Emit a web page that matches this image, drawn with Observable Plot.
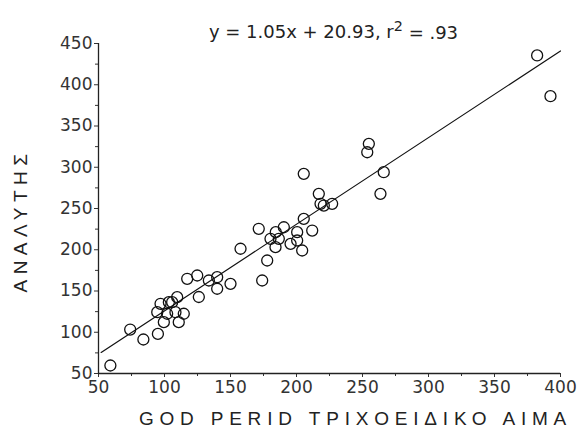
<!DOCTYPE html>
<html><head><meta charset="utf-8">
<script src="https://cdn.jsdelivr.net/npm/d3@7"></script>
<script src="https://cdn.jsdelivr.net/npm/@observablehq/plot@0.6"></script>
<style>body{margin:0;background:#fff}</style>
</head><body><div id="chart"></div>
<script>
// Data
const godX = [59, 74, 84, 95, 94.5, 97, 102, 103.3, 109.6, 108.3, 114.6, 110.8, 99.5, 105.8,
  117.2, 124.8, 126, 133.6, 139.9, 139.9, 150, 157.6, 171.4, 174, 177.8, 180.3, 184.3, 184.1,
  186.6, 190.4, 195.5, 200.5, 200.5, 204.3, 205.5, 211.9, 205.5, 216.9, 218.2, 220.7, 227,
  254.8, 253.6, 266.1, 263.6, 382.3, 392.4];
const analyzerY = [59.7, 103.3, 91.2, 98, 124.3, 134.5, 122.4, 136.4, 142.5, 124.3, 122.4, 112.2, 112.2, 136.4,
  164.8, 168.8, 142.7, 162.7, 166.7, 152.7, 158.7, 201.2, 225.4, 162.7, 187, 213.3, 221.3, 203.1,
  213.3, 227.3, 207.2, 211.2, 221.3, 199.1, 237.5, 223.3, 292, 267.8, 255.7, 253.6, 255.7,
  328.4, 318.2, 294, 267.8, 435.5, 386.1];
const xTicks = [50, 100, 150, 200, 250, 300, 350, 400];
const yTicks = [50, 100, 150, 200, 250, 300, 350, 400, 450];
const xMinor = [75, 125, 175, 225, 275, 325, 375];
const yMinor = [75, 125, 175, 225, 275, 325, 375, 425];
const slope = 1.05, intercept = 20.93;
const fitRange = [52, 400];
const titleMain = "y = 1.05x + 20.93, r", titleSup = "2", titleTail = " = .93";
const titleText = titleMain + titleSup + titleTail;
const xLabel = "GOD PERID ΤΡΙΧΟΕΙΔΙΚΟ ΑΙΜΑ";
const yLabel = "ΑΝΑΛΥΤΗΣ";

const points = godX.map((x, i) => ({x, y: analyzerY[i]}));
const fitLine = fitRange.map(x => ({x, y: slope * x + intercept}));

const chart = Plot.plot({
  width: 578, height: 439,
  marginLeft: 98, marginRight: 18, marginTop: 43, marginBottom: 66,
  style: {fontFamily: "DejaVu Sans", fontSize: "17px", color: "#333", background: "#fff"},
  x: {domain: [50, 400]},
  y: {domain: [50, 450]},
  marks: [
    Plot.axisX(xMinor, {tickSize: 3, tickFormat: () => "", label: null, stroke: "#333"}),
    Plot.axisY(yMinor, {tickSize: 3, tickFormat: () => "", label: null, stroke: "#333"}),
    Plot.axisX(xTicks, {tickSize: 4, tickPadding: 3, label: null, tickFormat: d => String(d), fill: "#333", stroke: "#333"}),
    Plot.axisY(yTicks, {tickSize: 4, tickPadding: 2, label: null, tickFormat: d => String(d), fill: "#333", stroke: "#333"}),
    Plot.ruleX([50], {stroke: "#222", strokeWidth: 1.3}),
    Plot.ruleY([50], {stroke: "#222", strokeWidth: 1.3}),
    Plot.line(fitLine, {x: "x", y: "y", stroke: "#111", strokeWidth: 1.2}),
    Plot.dot(points, {x: "x", y: "y", r: 5.5, stroke: "#111", strokeWidth: 1.3, fill: "none"}),
    Plot.text([titleText], {frameAnchor: "top", lineAnchor: "bottom", dy: -6, dx: 4, fontSize: 18, fill: "#222"}),
    Plot.text([xLabel], {frameAnchor: "bottom", lineAnchor: "bottom", textAnchor: "middle", dy: 51, dx: 26, fontSize: 19, fontFamily: "Liberation Sans", fill: "#222"}),
    Plot.text([yLabel], {frameAnchor: "left", textAnchor: "middle", rotate: -90, dx: -78, dy: 12, fontSize: 19, fontFamily: "Liberation Sans", fill: "#222"})
  ]
});

const svg = d3.select(chart);
svg.selectAll("text").filter(function() { return this.textContent === xLabel; })
  .attr("letter-spacing", "5.8px");
svg.selectAll("text").filter(function() { return this.textContent === yLabel; })
  .attr("letter-spacing", "5.5px");
svg.selectAll("text").filter(function() { return this.textContent === titleText; })
  .each(function() {
    const t = d3.select(this);
    t.text(null);
    t.append("tspan").text(titleMain);
    t.append("tspan").attr("dy", "-0.45em").attr("font-size", "0.8em").text(titleSup);
    t.append("tspan").attr("dy", "0.45em").text(titleTail);
  });

document.getElementById("chart").appendChild(chart);
</script>
</body></html>
